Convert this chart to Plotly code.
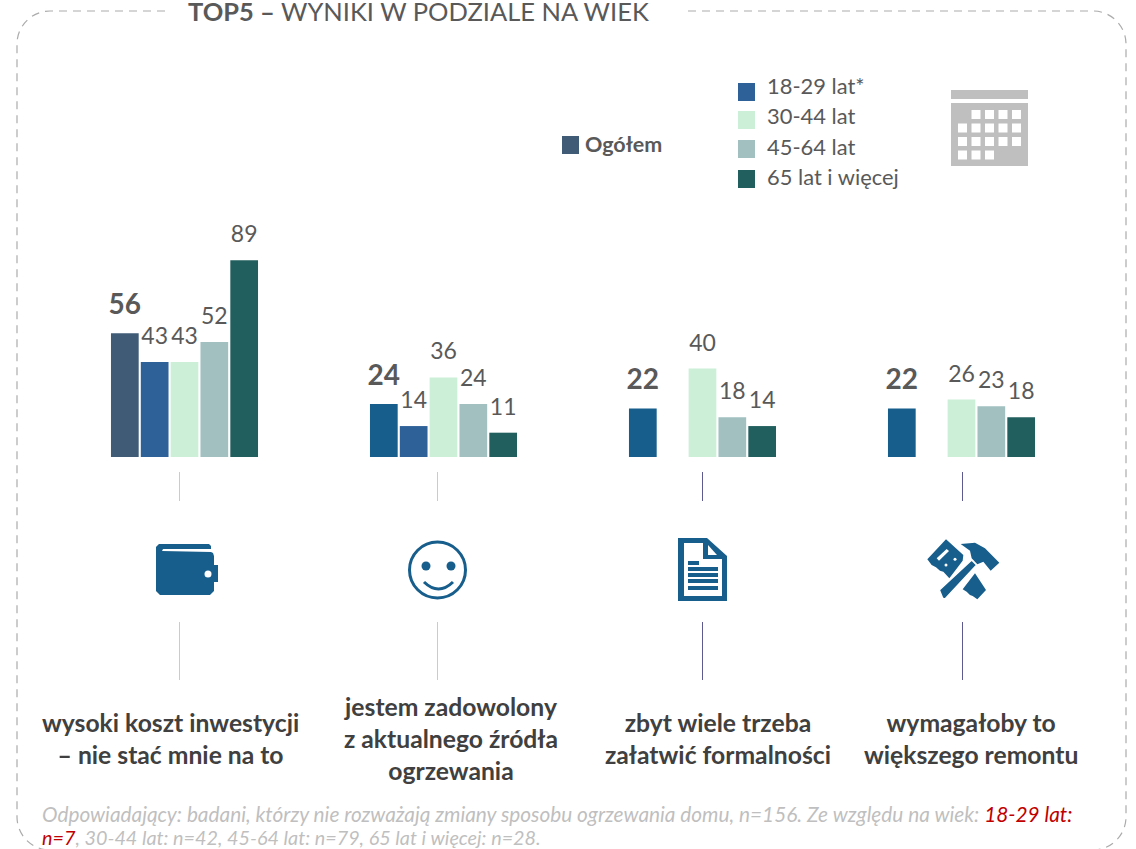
import plotly.graph_objects as go

FONT = "Lato"
W, H = 1136, 849

categories = ["wysoki koszt inwestycji<br>– nie stać mnie na to",
              "jestem zadowolony<br>z aktualnego źródła<br>ogrzewania",
              "zbyt wiele trzeba<br>załatwić formalności",
              "wymagałoby to<br>większego remontu"]
series_names = ["Ogółem", "18-29 lat*", "30-44 lat", "45-64 lat", "65 lat i więcej"]
ogolem = [56, 24, 22, 22]
age_18_29 = [43, 14, None, None]
age_30_44 = [43, 36, 40, 26]
age_45_64 = [52, 24, 18, 23]
age_65 = [89, 11, 14, 18]
ogolem_colors = ["#3F5B76", "#175E8C", "#175E8C", "#175E8C"]
colors = ["#3F5B76", "#2D6198", "#CCEFD8", "#A2C0C0", "#215F5E"]
TXT = "#595959"

def X(p): return p / W
def Y(p): return 1 - p / H

fig = go.Figure()
series = [ogolem, age_18_29, age_30_44, age_45_64, age_65]
STEP, BAR = 0.1152, 0.107
for i, (n, v) in enumerate(zip(series_names, series)):
    bold = i == 0
    xs = [g + (i - 2) * STEP for g in range(len(categories))]
    fig.add_trace(go.Bar(x=xs, y=v, width=BAR, name=n,
                         marker=dict(color=ogolem_colors if bold else colors[i], line=dict(width=0)),
                         hoverinfo="skip"))
    fig.add_trace(go.Scatter(x=xs, y=v, mode="markers+text", cliponaxis=False, hoverinfo="skip",
                             marker=dict(size=18, color="rgba(0,0,0,0)"),
                             text=[("" if a is None else (f"<b>{a}</b>" if bold else str(a))) for a in v],
                             textposition="top center",
                             textfont=dict(family=FONT, size=28 if bold else 23, color=TXT)))

shapes, ann = [], []
def P(pts):
    return "M" + " L".join(f"{X(a):.5f},{Y(b):.5f}" for a, b in pts) + " Z"
def rect(x0, y0, x1, y1, c):
    shapes.append(dict(type="rect", xref="paper", yref="paper", x0=X(x0), x1=X(x1), y0=Y(y0), y1=Y(y1),
                       fillcolor=c, line=dict(width=0), layer="above"))
def poly(pts, c, lw=0, lc="white"):
    shapes.append(dict(type="path", xref="paper", yref="paper", path=P(pts), fillcolor=c,
                       line=dict(width=lw, color=lc), layer="above"))
def circ(cx, cy, r, fill, lw=0, lc=None):
    shapes.append(dict(type="circle", xref="paper", yref="paper", x0=X(cx-r), x1=X(cx+r), y0=Y(cy+r), y1=Y(cy-r),
                       fillcolor=fill, line=dict(width=lw, color=lc or fill), layer="above"))
def text(x, y, t, size, color=TXT, anchor="center", align="center"):
    ann.append(dict(x=X(x), y=Y(y), xref="paper", yref="paper", text=t, showarrow=False, xanchor=anchor,
                    yanchor="middle", align=align, font=dict(family=FONT, size=size, color=color)))

# dashed frame
L, R, T, B, r = 17, 1126, 11, 850, 33
k = r * 0.45
def cub(a, b, c, d, e, f):
    return f"C{X(a):.5f},{Y(b):.5f} {X(c):.5f},{Y(d):.5f} {X(e):.5f},{Y(f):.5f}"
frame_l = (f"M{X(165)},{Y(T)} L{X(L+r)},{Y(T)} " + cub(L+k, T, L, T+k, L, T+r)
           + f" L{X(L)},{Y(B-r)} " + cub(L, B-k, L+k, B, L+r, B))
frame_r = (f"M{X(688)},{Y(T)} L{X(R-r)},{Y(T)} " + cub(R-k, T, R, T+k, R, T+r)
           + f" L{X(R)},{Y(B-r)} " + cub(R, B-k, R-k, B, R-r, B))
for p in (frame_l, frame_r):
    shapes.append(dict(type="path", xref="paper", yref="paper", path=p, line=dict(color="#ABABAB", width=1.2, dash="8px,6px")))

# connector lines
for x, c in ((179.5, "#C9CBD3"), (437.5, "#C9CBD3"), (702.5, "#5D5A92"), (962.5, "#5D5A92")):
    for y0, y1 in ((472, 501), (622, 680)):
        shapes.append(dict(type="line", xref="paper", yref="paper", x0=X(x), x1=X(x), y0=Y(y0), y1=Y(y1), line=dict(color=c, width=1)))

# legend
rect(562, 136, 579, 154, colors[0])
text(582.5, 144, f"<b>{series_names[0]}</b>", 21.5, anchor="left")
for n, c, y, ty in zip(series_names[1:], colors[1:], (83, 111, 140, 170), (85.5, 115.5, 146.5, 176.5)):
    rect(738, y, 755, y+18, c)
    text(764.5, ty, n, 21.9, anchor="left")

# calendar icon
G = "#BFBFBF"
rect(951, 90, 1028, 99, G)
rect(951, 103, 1028, 166, G)
for y, xs in ((110, (971.5, 985, 998.5, 1012)), (123.5, (958, 971.5, 985, 998.5, 1012)),
              (137, (958, 971.5, 985, 998.5, 1012)), (150.5, (958, 971.5, 985))):
    for x in xs:
        rect(x, y, x+9, y+9, "white")

IC = "#175E8C"
# wallet icon
poly([(159,544),(209,544),(211,546),(211,549),(163,549),(162,551),(211,552),(213,553),(214,556),(214,565),(218,565),(218,582),(214,582),
      (214,591),(210,595),(160,595),(156,591),(156,547)], IC)
circ(208, 574, 3.5, "white")
# smiley icon
circ(437.5, 570, 28, "white", 3, IC)
circ(426, 566, 4.5, IC)
circ(451, 566, 4.5, IC)
shapes.append(dict(type="path", xref="paper", yref="paper", layer="above", line=dict(color=IC, width=3),
                   path=f"M{X(424)},{Y(582)} Q{X(438.5)},{Y(596)} {X(453)},{Y(582)}"))
# document icon
poly([(678,538),(707,538),(727,556),(727,601),(678,601)], IC)
poly([(684,543),(703,543),(703,559),(722,559),(722,596),(684,596)], "white")
poly([(708,545),(717,555),(708,555)], "white")
rect(688, 561, 699, 565, IC)
for y in (567, 573, 579, 586):
    rect(688, y, 718, y+4, IC)
# tools icon
def Z(pts): return [(920+a/3, 530+b/3) for a, b in pts]
poly(Z([(22,88),(78,28),(130,75),(128,92),(88,145),(70,125),(60,122),(48,112),(35,105)]), IC)
poly(Z([(50,85),(80,57),(87,63),(57,92)]), "white")
circ(920+78/3, 530+105/3, 1.5, "white")
circ(920+105/3, 530+88/3, 1.5, "white")
poly(Z([(128,178),(165,130),(198,180),(172,208),(158,198),(150,195),(140,185)]), IC)
poly(Z([(58,180),(155,90),(170,105),(75,207),(68,205)]), IC, lw=1.5)
poly(Z([(122,42),(165,38),(195,55),(238,98),(212,122),(190,95),(172,103),(155,85),(150,62)]), IC)

# title
text(418.5, 11, "<b>TOP5 –</b> WYNIKI W PODZIALE NA WIEK", 25.5, anchor="center")

# category captions
for c, x in zip(categories, (170, 451, 718, 971)):
    text(x, 738, f"<b>{c}</b>", 24.7, color="#404040")

# footnote
GR = "#BFBFBF"
RED = "#C00000"
foot1 = f"<i>Odpowiadający: badani, którzy nie rozważają zmiany sposobu ogrzewania domu, n=156. Ze względu na wiek: <span style='color:{RED}'>18-29 lat:</span></i>"
foot2 = f"<i><span style='color:{RED}'>n=7</span>, 30-44 lat: n=42, 45-64 lat: n=79, 65 lat i więcej: n=28.</i>"
text(40, 813, foot1, 20.8, color=GR, anchor="left", align="left")
text(40, 837, foot2, 19.8, color=GR, anchor="left", align="left")

fig.update_layout(
    width=W, height=H, margin=dict(l=0, r=0, t=0, b=0), paper_bgcolor="white", plot_bgcolor="white",
    barmode="overlay", showlegend=False, shapes=shapes, annotations=ann,
    xaxis=dict(domain=[X(55), X(1091)], visible=False, range=[-0.5, 3.5]),
    yaxis=dict(domain=[Y(457), Y(236)], range=[0, 100], visible=False),
)
fig.write_html("out.html", config={"displayModeBar": False},
               post_script="document.body.style.margin='0';")
